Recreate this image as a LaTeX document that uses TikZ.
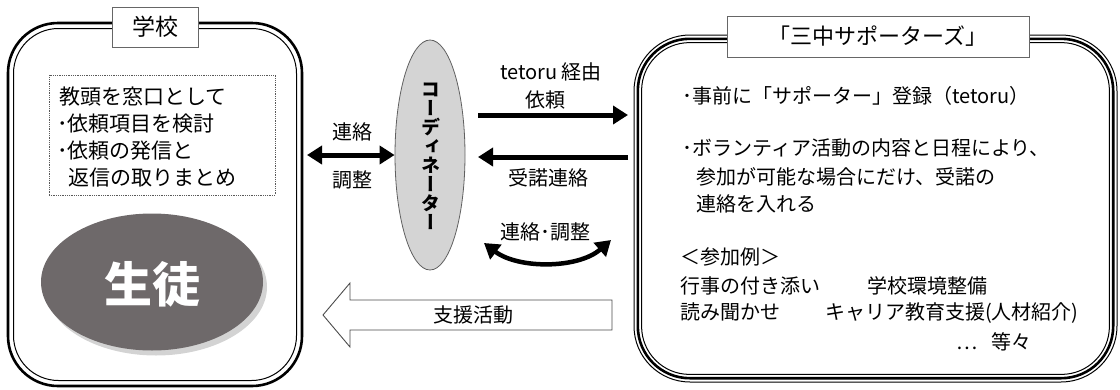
\documentclass[tikz,border=0pt]{standalone}
\usepackage{fontspec}
\setmainfont{Noto Sans CJK JP}
\newfontfamily\cjkv{Noto Sans CJK JP}[RawFeature=+vert]
\usetikzlibrary{arrows.meta,shapes.geometric,shadows}
\newcommand\myfs[1]{\fontsize{#1pt}{#1pt}\selectfont}
\definecolor{stud}{RGB}{110,105,106}
\definecolor{coordfill}{RGB}{212,212,212}
\begin{document}
\begin{tikzpicture}[x=1pt,y=-1pt,
  txt/.style={inner sep=0pt, anchor=west, font=\myfs{20}, text height=17pt, text depth=3pt},
  lbl/.style={inner sep=0pt, font=\myfs{20}, text height=17pt, text depth=3pt},
  titlebox/.style={draw=gray!80!black, line width=0.8pt, fill=white, inner sep=0pt, font=\myfs{23}},
  bigarrow/.style={line width=5pt, -{Triangle[length=15pt,width=18pt]}},
  dblarrow/.style={line width=5pt, {Triangle[length=15pt,width=18pt]}-{Triangle[length=15pt,width=18pt]}}]
\useasboundingbox (0,0) rectangle (1120,389);

% left frame (thick-thin)
\draw[line width=2.6pt, rounded corners=50] (8,23) rectangle (302,386);
\draw[line width=1pt, rounded corners=45] (13.5,28.5) rectangle (296.5,380.5);
% right frame (thin-thick-thin)
\draw[line width=1pt, rounded corners=56] (634,35) rectangle (1117,382);
\draw[line width=2.6pt, rounded corners=52] (637.8,38.8) rectangle (1113.2,378.2);
\draw[line width=1pt, rounded corners=48] (641.6,42.6) rectangle (1109.4,374.4);

% titles
\node[titlebox, minimum width=86, minimum height=40] (tschool) at (155,27) {学校};
\node[titlebox, minimum width=302, minimum height=41, font=\myfs{22}] (tsup) at (878,36.5) {「三中サポーターズ」};

% dotted box
\node[draw=gray!70!black, densely dotted, line width=0.8pt, minimum width=226, minimum height=120, inner sep=0pt] (dbox) at (162,135) {};
\node[txt, font=\myfs{21}] (l1) at (59,97) {教頭を窓口として};
\node[txt, font=\myfs{21}] (l2) at (57,124) {･依頼項目を検討};
\node[txt, font=\myfs{21}] (l3) at (57,151) {･依頼の発信と};
\node[txt, font=\myfs{21}] (l4) at (68,178) {返信の取りまとめ};

% student ellipse
\node[ellipse, fill=stud, minimum width=222, minimum height=137, inner sep=0pt,
  drop shadow={shadow xshift=4pt, shadow yshift=-5pt, opacity=0.35, fill=gray}]
  (student) at (152,282) {};
\node[text=white, font=\myfs{48}\bfseries, inner sep=0pt] (studtxt) at (152,284) {生徒};

% coordinator
\node[ellipse, draw=gray!75!black, fill=coordfill, line width=0.8pt, minimum width=70, minimum height=230, inner sep=0pt] (coord) at (430,155) {};
\node[align=center, font=\cjkv\myfs{19}\bfseries, inner sep=0pt] (coordtxt) at (431,156) {コ\\ー\\デ\\ィ\\ネ\\ー\\タ\\ー};

% left double arrow
\coordinate (lb) at (307,155);
\draw[dblarrow] (coord.west) -- (lb);
\node[lbl] (t1) at (352,132) {連絡};
\node[lbl] (t2) at (352,180) {調整};

% right arrows
\coordinate (ra1) at (478,115);
\coordinate (ra2) at (628,115);
\coordinate (rb1) at (628,157);
\coordinate (rb2) at (478,157);
\draw[bigarrow] (ra1) -- (ra2);
\draw[bigarrow] (rb1) -- (rb2);
\node[lbl] (t3) at (551,72) {tetoru 経由};
\node[lbl] (t4) at (545,100) {依頼};
\node[lbl] (t5) at (548,178) {受諾連絡};

% curved double arrow
\coordinate (ca1) at (484,243);
\coordinate (ca2) at (611,240);
\draw[dblarrow, line width=4.5pt] (ca1) .. controls (518,269) and (578,269) .. (ca2);
\node[lbl] (t6) at (545,232) {連絡･調整};

% hollow arrow
\draw[line width=0.9pt, draw=gray!60!black, fill=white] (323,315) -- (350,283) -- (350,300) -- (612,300) -- (612,330) -- (350,330) -- (350,347) -- cycle;
\node[lbl] (t7) at (473,315) {支援活動};

% right box text
\node[txt] (r1) at (682,96) {･事前に「サポーター」登録（tetoru）};
\node[txt] (r2) at (682,148) {･ボランティア活動の内容と日程により、};
\node[txt] (r3) at (696,177) {参加が可能な場合にだけ、受諾の};
\node[txt] (r4) at (696,204) {連絡を入れる};
\node[txt] (r5) at (680,257) {＜参加例＞};
\node[txt] (r6) at (680,286) {行事の付き添い};
\node[txt] (r7) at (867,286) {学校環境整備};
\node[txt] (r8) at (680,312) {読み聞かせ};
\node[txt] (r9) at (825,312) {キャリア教育支援(人材紹介)};
\node[txt] (r10) at (956,342) {…\hspace{14pt}等々};
\end{tikzpicture}
\end{document}
